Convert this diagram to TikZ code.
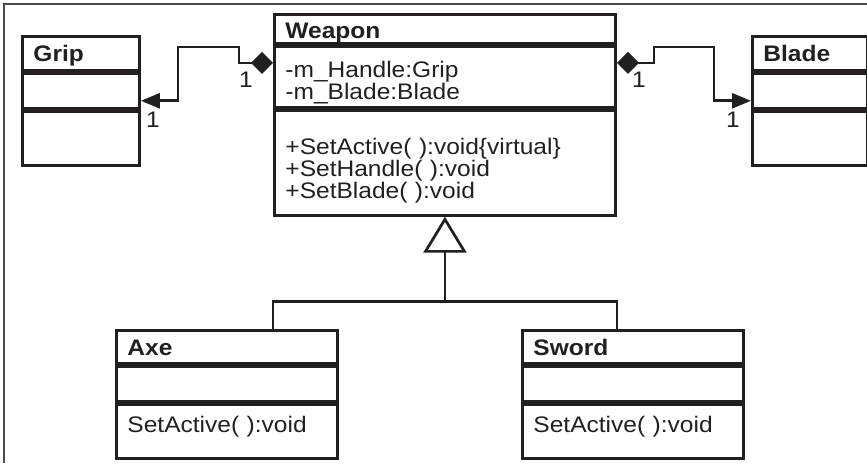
\documentclass[tikz,border=0pt]{standalone}
\usepackage{fontspec}
\setmainfont{Liberation Sans}[FakeStretch=1.09]
\usetikzlibrary{positioning,arrows.meta}
\definecolor{umlink}{RGB}{35,31,32}
\newcommand\umlsize{\fontsize{22.5pt}{20pt}\selectfont}

\begin{document}
\begin{tikzpicture}[x=1pt, y=-1pt,
    classrow/.style 2 args={draw=umlink, line width=2.9pt, inner xsep=11pt, inner ysep=0pt,
      text height=#1pt, text depth=#2pt, align=left, font=\umlsize, text=umlink},
    classhead/.style 2 args={classrow={#1}{#2}, font=\umlsize\bfseries},
    assoc/.style={draw=umlink, line width=2.7pt,
      {Diamond[length=22pt,width=22pt]}-{Triangle[length=19pt,width=15pt]}},
    genline/.style={draw=umlink, line width=2.7pt},
    mult/.style={inner sep=0pt, font=\umlsize, text=umlink}]

    \useasboundingbox (0,0) rectangle (867,463);
    \draw[black!70, line width=1.3pt] (4,463) -- (4,4) -- (867,4);

    % component classes
    \node[classhead={25}{9}, text width=95pt, anchor=north west] (grip) at (21,35) {Grip};
    \node[classrow={35}{0}, text width=95pt, below=0pt of grip] (gripattr) {};
    \node[classrow={54}{0}, text width=95pt, below=0pt of gripattr] (gripops) {};

    \node[classhead={25}{9}, text width=93pt, anchor=north west] (blade) at (751,35) {Blade};
    \node[classrow={35}{0}, text width=93pt, below=0pt of blade] (bladeattr) {};
    \node[classrow={54}{0}, text width=93pt, below=0pt of bladeattr] (bladeops) {};

    % base class
    \node[classhead={24}{5}, text width=319pt, anchor=north west] (wpn) at (273,13) {Weapon};
    \node[classrow={31}{30}, text width=319pt, below=0pt of wpn] (wpnattr)
        {-m\_Handle:Grip\\-m\_Blade:Blade};
    \node[classrow={44}{61}, text width=319pt, below=0pt of wpnattr] (wpnops)
        {+SetActive( ):void\{virtual\}\\+SetHandle( ):void\\+SetBlade( ):void};

    % derived classes
    \node[classhead={25}{8}, text width=199pt, anchor=north west] (axe) at (115,329) {Axe};
    \node[classrow={35}{0}, text width=199pt, below=0pt of axe] (axeattr) {};
    \node[classrow={28}{26}, text width=199pt, below=0pt of axeattr] (axeops) {SetActive( ):void};

    \node[classhead={25}{8}, text width=199pt, anchor=north west] (sword) at (521,329) {Sword};
    \node[classrow={35}{0}, text width=199pt, below=0pt of sword] (swordattr) {};
    \node[classrow={28}{26}, text width=199pt, below=0pt of swordattr] (swordops) {SetActive( ):void};

    % composition
    \draw[assoc] ([yshift=-18pt]wpnattr.north west) -- ++(-34,0) -- ++(0,-16) -- ++(-61,0)
        |- ([yshift=9pt]gripattr.south east);
    \draw[assoc] ([yshift=-18pt]wpnattr.north east) -- ++(37,0) -- ++(0,-16) -- ++(60,0)
        |- ([yshift=9pt]bladeattr.south west);

    \node[mult] (gripnear) at (246,80) {1};
    \node[mult] (gripfar) at (153,120) {1};
    \node[mult] (bladenear) at (639,80) {1};
    \node[mult] (bladefar) at (733,120) {1};

    % generalization
    \coordinate (fork) at ([yshift=-85pt]wpnops.south);
    \draw[genline] (axe.north -| wpnops.west) |- (fork) -| (sword.north -| wpnops.east);
    \draw[genline, -{Triangle[open, length=36pt, width=43pt, fill=white]}] (fork) -- (wpnops.south);
\end{tikzpicture}
\end{document}
